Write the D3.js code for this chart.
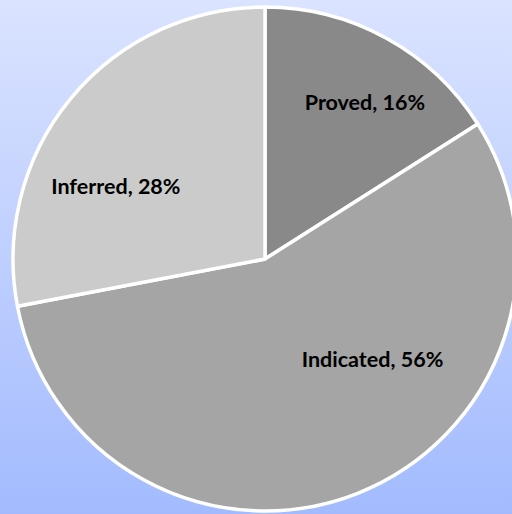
<!DOCTYPE html>
<html>
<head>
<meta charset="utf-8">
<script src="https://cdn.jsdelivr.net/npm/d3@7"></script>
<style>
  html, body { margin: 0; padding: 0; }
  svg { display: block; }
</style>
</head>
<body>
<div id="chart"></div>
<script>
// data
const categories = ["Proved", "Indicated", "Inferred"];
const shares = [16, 56, 28];
const sliceColors = ["#898989", "#a5a5a5", "#cbcbcb"];
// where each label sits: angle (deg, clockwise from top) and distance from centre
const labelAngle = [32.5, 133, 296];
const labelRadius = [186, 147, 166];

const W = 512, H = 514;
const cx = 265, cy = 259, R = 252;

const svg = d3.select("#chart").append("svg")
  .attr("width", W)
  .attr("height", H);

//Background gradient
const grad = svg.append("defs").append("linearGradient")
  .attr("id", "bg")
  .attr("x1", 0).attr("y1", 0).attr("x2", 0).attr("y2", 1);
grad.append("stop").attr("offset", "0%").attr("stop-color", "#dae3ff");
grad.append("stop").attr("offset", "100%").attr("stop-color", "#a3bbfe");

svg.append("rect")
  .attr("width", W).attr("height", H)
  .attr("fill", "url(#bg)");

const g = svg.append("g")
  .attr("transform", "translate(" + cx + "," + cy + ")");

const pie = d3.pie().sort(null).value(d => d);
const arc = d3.arc().innerRadius(0).outerRadius(R);

const slices = pie(shares);

g.selectAll(".slice")
  .data(slices)
  .enter().append("path")
  .attr("class", "slice")
  .attr("d", arc)
  .attr("fill", (d, i) => sliceColors[i])
  .attr("stroke", "#ffffff")
  .attr("stroke-width", 3.5)
  .attr("stroke-linejoin", "round");

//Labels
g.selectAll(".lbl")
  .data(slices)
  .enter().append("text")
  .attr("class", "lbl")
  .attr("x", (d, i) => labelRadius[i] * Math.sin(labelAngle[i] * Math.PI / 180))
  .attr("y", (d, i) => -labelRadius[i] * Math.cos(labelAngle[i] * Math.PI / 180))
  .attr("dy", "0.35em")
  .attr("text-anchor", "middle")
  .style("font-family", "Lato, 'Open Sans', sans-serif")
  .style("font-weight", "bold")
  .style("font-size", "21.5px")
  .attr("fill", "#000")
  .text((d, i) => categories[i] + ", " + shares[i] + "%");
</script>
</body>
</html>
